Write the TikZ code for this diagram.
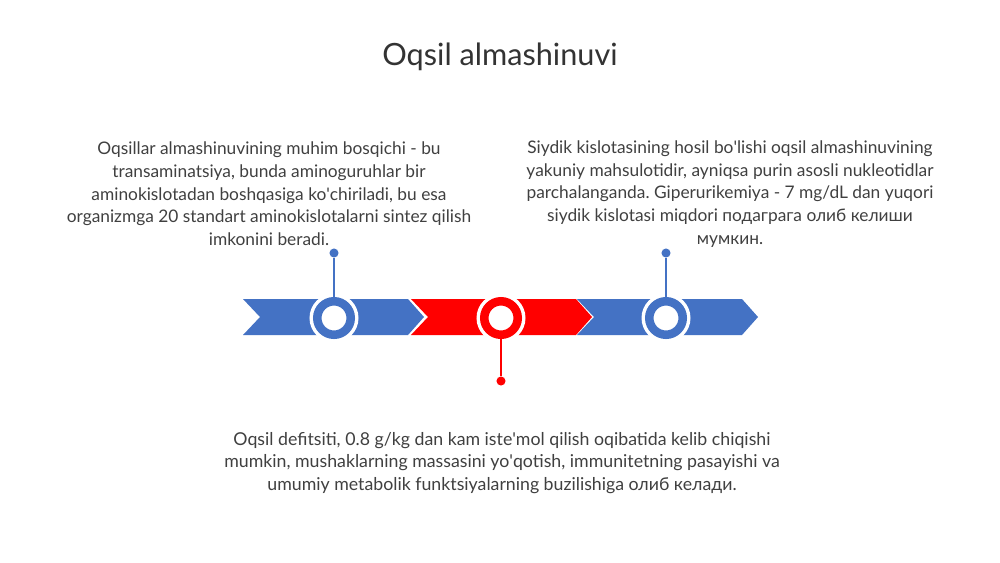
\documentclass[tikz,border=0pt]{standalone}
\usepackage{fontspec}
\setmainfont{Lato}
\usetikzlibrary{positioning}
\definecolor{tlblue}{HTML}{4472C4}
\definecolor{tlred}{HTML}{FF0000}
\definecolor{txtgray}{HTML}{404040}
\newcommand\ap{\textquotesingle}
\frenchspacing
\tikzset{
  ring/.style={circle,inner sep=0pt,minimum size=25.1pt,fill=white,draw=#1,line width=6.4pt,
    preaction={draw=white,line width=11.6pt}},
  pin/.style={circle,inner sep=0pt,minimum size=6.8pt,fill=#1},
  stem/.style={#1,line width=1.5pt},
  desc/.style={inner sep=0pt,align=center,text=txtgray,font=\fontsize{13}{17}\selectfont}
}

\begin{document}
\begin{tikzpicture}[x=0.75pt,y=-0.75pt]
\useasboundingbox[fill=white] (0,0) rectangle (1000,562);

\node[inner sep=0pt,text=txtgray!80!black,font=\fontsize{23}{27}\selectfont] (title) at (500,57) {Oqsil almashinuvi};

\foreach \l/\c in {243/tlblue,411/tlred,577/tlblue}
  \fill[\c] (\l,299) -- ++(165,0) -- ++(16,18) -- ++(-16,18) -- ++(-165,0) -- ++(17,-18) -- cycle;

\node[ring=tlblue] (c1) at (334,318) {};
\node[ring=tlred] (c2) at (501,318) {};
\node[ring=tlblue] (c3) at (666,318) {};

\node[pin=tlblue] (d1) at (334,253) {};
\node[pin=tlred] (d2) at (501,381) {};
\node[pin=tlblue] (d3) at (666,253) {};

\draw[stem=tlblue] (c1.north) -- (d1);
\draw[stem=tlred] (c2.south) -- (d2);
\draw[stem=tlblue] (c3.north) -- (d3);

\node[desc] (t1) at (269,194) {Oqsillar almashinuvining muhim bosqichi - bu\\
  transaminatsiya, bunda aminoguruhlar bir\\
  aminokislotadan boshqasiga ko\ap chiriladi, bu esa\\
  organizmga 20 standart aminokislotalarni sintez qilish\\
  imkonini beradi.};
\node[desc] (t3) at (730,194) {Siydik kislotasining hosil bo\ap lishi oqsil almashinuvining\\
  yakuniy mahsulotidir, ayniqsa purin asosli nukleotidlar\\
  parchalanganda. Giperurikemiya - 7 mg/dL dan yuqori\\
  siydik kislotasi miqdori подаграга олиб келиши\\
  мумкин.};
\node[desc,font=\fontsize{13.3}{17}\selectfont] (t2) at (502,463) {Oqsil defitsiti, 0.8 g/kg dan kam iste\ap mol qilish oqibatida kelib chiqishi\\
  mumkin, mushaklarning massasini yo\ap qotish, immunitetning pasayishi va\\
  umumiy metabolik funktsiyalarning buzilishiga олиб келади.};
\end{tikzpicture}
\end{document}
